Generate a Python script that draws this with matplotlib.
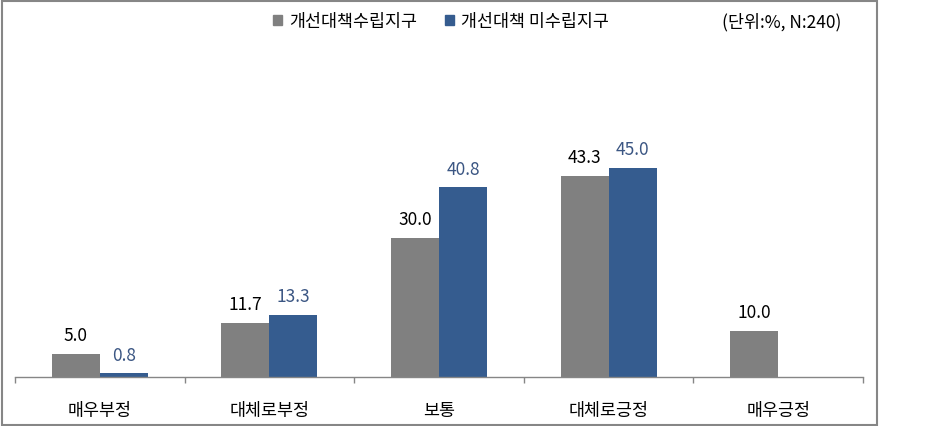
import numpy as np
import matplotlib
matplotlib.use("Agg")
import matplotlib.pyplot as plt
from matplotlib.patches import Rectangle, Patch

plt.rcParams['font.family'] = ['Noto Sans CJK KR', 'DejaVu Sans']

# 데이터
categories = ['매우부정', '대체로부정', '보통', '대체로긍정', '매우긍정']
series_names = ['개선대책수립지구', '개선대책 미수립지구']
planned = [5.0, 11.7, 30.0, 43.3, 10.0]
unplanned = [0.8, 13.3, 40.8, 45.0, np.nan]

gray = '#808080'
blue = '#355C8F'
blue_txt = '#3B5683'

W, H = 926, 427
fig = plt.figure(figsize=(W / 100, H / 100), dpi=100)
ax = fig.add_axes([15 / W, (H - 378) / H, (863 - 15) / W, 232.5 / H])

x = np.arange(len(categories))
bw = 0.283
b1 = ax.bar(x - bw / 2, planned, bw, color=gray)
b2 = ax.bar(x + bw / 2, np.nan_to_num(unplanned), bw, color=blue)

for xi, v in zip(x, planned):
    ax.annotate(f'{v:.1f}', (xi - bw / 2, v), xytext=(0, 13.5), textcoords='offset points',
                ha='center', va='center', fontsize=12.5, color='#000000')
for xi, v in zip(x, unplanned):
    if np.isnan(v):
        continue
    ax.annotate(f'{v:.1f}', (xi + bw / 2, v), xytext=(0, 13.5), textcoords='offset points',
                ha='center', va='center', fontsize=12.5, color=blue_txt)

ax.set_xlim(-0.5, len(categories) - 0.5)
ax.set_ylim(0, 50)
ax.set_yticks([])
for s in ['left', 'right', 'top']:
    ax.spines[s].set_visible(False)
ax.spines['bottom'].set_color('#868686')
ax.spines['bottom'].set_linewidth(1.0)

ax.set_xticks(x)
ax.set_xticklabels(categories, fontsize=12.5)
ax.tick_params(axis='x', which='major', length=0, pad=17)
ax.set_xticks(np.arange(-0.5, len(categories)), minor=True)
ax.tick_params(axis='x', which='minor', length=4, color='#868686', width=1.0)

handles = [Patch(color=gray), Patch(color=blue)]
fig.legend(handles, series_names, loc='center', bbox_to_anchor=(441 / W, 1 - 22 / H),
           ncol=2, frameon=False, fontsize=12.5, handlelength=0.55, handleheight=0.55,
           handletextpad=0.4, columnspacing=1.6)
fig.text(782 / W, 1 - 22 / H, '(단위:%, N:240)', ha='center', va='center', fontsize=12.5)

# 외곽 테두리
fig.patches.append(Rectangle((2 / W, 1 / H), 875 / W, 424 / H, transform=fig.transFigure,
                             fill=False, edgecolor='#868686', linewidth=1.5))

fig.savefig('out.png', dpi=100)
